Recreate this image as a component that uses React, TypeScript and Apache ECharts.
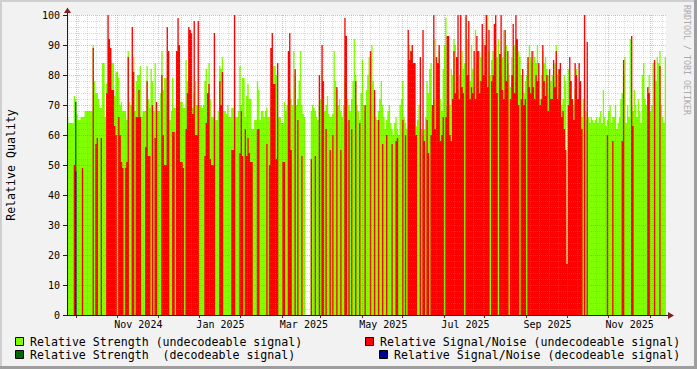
import React, { useEffect, useRef } from "react";
import * as echarts from "echarts";

const _ = null;

// one value per day, first day below
const START_DAY = "2024-08-25";

// Relative Strength (undecodeable signal), daily
const strength: (number | null)[] = [
  66, 64, 64, 64, 64, 73, 72, 67, 65, 65,
  66, 66, 66, 68, 68, 68, 68, 68, 68, 90,
  78, 74, 74, 72, 69, 69, 84, 84, 66, 77,
  78, 80, 85, 84, 84, 73, 81, 81, 79, 70,
  71, 68, 68, 68, 65, 88, 71, 70, 70, 86,
  68, 78, 80, 80, 83, 66, 68, 68, 68, 83,
  72, 69, 82, 78, 68, 84, 68, 68, 68, 74,
  88, 75, 79, 79, 70, 65, 65, 68, 79, 69,
  69, 75, 80, 80, 71, 71, 69, 69, 85, 78,
  80, 80, 80, 69, 74, 78, 70, 70, 70, 70,
  69, 70, 78, 82, 69, 84, 72, 66, 66, 66,
  65, 65, 68, 83, 82, 86, 68, 68, 67, 70,
  66, 66, 69, 69, 80, 66, 66, 68, 83, 70,
  79, 79, 66, 73, 77, 72, 72, 62, 62, 65,
  65, 78, 75, 65, 68, 68, 66, 68, 69, 66,
  66, 69, 80, 83, 83, 80, 66, 66, 66, 64,
  64, 71, 68, 70, 72, 75, 72, 70, 88, 80,
  70, 72, 78, 88, 70, 67, 66, _, _, _,
  _, 68, 70, 69, 68, 66, 65, 70, 72, 82,
  75, 68, 70, 73, 67, 66, 66, 67, 88, 78,
  75, 70, 72, 68, 66, 70, 80, 88, 72, 70,
  68, 72, 78, 92, 80, 70, 68, 65, 74, 85,
  70, 68, 75, 80, 86, 70, 90, 78, 70, 66,
  65, 68, 72, 78, 70, 66, 62, 65, 68, 70,
  64, 62, 60, 64, 66, 62, 60, 70, 72, 78,
  66, 64, 62, 84, 90, 88, 65, 62, 60, 63,
  65, 70, 61, 62, 60, 62, 66, 78, 74, 82,
  84, 68, 72, 92, 86, 80, 88, 72, 68, 82,
  90, 99, 70, 75, 70, 82, 80, 92, 90, 70,
  75, 80, 76, 88, 82, 84, 99, 92, 80, 78,
  90, 82, 76, 95, 84, 80, 88, 86, 90, 92,
  78, 94, 100, 88, 80, 85, 88, 82, 90, 86,
  92, 84, 80, 86, 95, 88, 90, 84, 80, 76,
  86, 80, 90, 78, 84, 88, 86, 80, 72, 74,
  78, 80, 84, 90, 86, 84, 88, 86, 84, 90,
  78, 72, 80, 88, 84, 86, 82, 80, 74, 78,
  80, 78, 84, 90, 80, 82, 76, 70, 72, 80,
  78, _, 82, 70, 66, 68, 70, 75, 82, 68,
  72, 70, 66, 72, 78, 68, 65, 66, 64, 66,
  65, 64, 65, 66, 64, 66, 68, 64, 75, 66,
  63, 65, 68, 70, 64, 66, 66, 70, 62, 64,
  66, 72, 74, 80, 86, 64, 70, 66, 92, 70,
  68, 75, 70, 66, 72, 68, 64, 80, 84, 72,
  70, 74, 80, 68, 70, 84, 80, 78, 86, 84,
  88, 70, 66, 64, 86,
];

// Relative Signal/Noise (undecodeable signal), daily
const snr: (number | null)[] = [
  _, _, _, _, _, 50, _, _, _, _,
  _, 49, _, _, _, _, _, _, _, 89,
  _, 57, 59, _, _, 59, _, _, _, 74,
  100, 92, 89, 75, 75, 63, 60, _, 66, 60,
  51, 49, _, 49, 51, 86, _, _, 96, 81,
  _, 66, 66, 75, 66, _, _, _, 56, 78,
  53, 53, _, 70, _, 59, 71, _, _, _,
  80, 60, 50, 50, 96, 88, _, _, 61, 61,
  _, 88, 99, 90, 51, 51, 49, _, 62, 74,
  96, 95, 94, 67, 98, 60, 60, 98, _, _,
  _, _, 53, 64, 74, 77, 52, 50, 50, 94,
  _, _, _, 78, 70, 81, _, _, _, _,
  _, _, 55, 55, 100, _, _, _, 54, 68,
  53, _, 62, 53, 59, 54, 51, 51, _, _,
  _, 62, 62, _, _, _, _, _, 57, _,
  50, 89, 94, 77, 77, 52, 84, _, _, _,
  51, 51, _, _, 88, 94, 55, _, _, 82,
  _, 65, _, _, 53, _, _, _, _, _,
  _, 52, _, _, 53, _, _, 80, _, 90,
  78, _, 62, _, _, 55, _, 60, _, _,
  76, _, _, 55, _, _, 99, 93, _, 65,
  _, 62, _, _, 78, _, _, 64, _, _,
  _, 70, _, _, _, 88, _, _, 75, _,
  _, 65, _, _, 57, _, _, 60, _, _,
  _, 57, _, _, 58, 59, _, _, _, 65,
  _, 60, _, 95, 85, 88, 90, 84, 84, 60,
  _, _, 86, _, 95, 58, _, 65, 54, _,
  60, 70, 100, 62, 86, 84, 90, 58, 60, 66,
  _, 66, 93, 93, 60, 58, 72, 88, 74, 86,
  100, 72, 100, 76, 74, _, 100, 80, 98, 72,
  76, 74, 88, 72, 93, 88, 74, 78, 97, 80,
  90, 100, 76, 95, _, 78, 80, 97, 100, 74,
  _, 87, 100, 75, 72, 95, 78, 88, _, 72,
  80, 97, 74, 100, 92, 70, _, 72, 82, 70,
  72, _, 86, 76, 74, 88, 76, 72, 80, 78,
  84, 70, 72, 90, 78, 73, 80, 68, 82, 72,
  72, 85, 76, 88, 72, 82, 84, 66, 68, 62,
  55, 17, 70, 86, 78, 72, 65, 84, 80, 72,
  84, 78, 62, _, 100, _, 91, _, _, _,
  _, _, _, _, _, _, _, _, _, _,
  _, 60, _, _, _, 58, _, _, _, _,
  _, _, 58, 85, _, _, _, _, _, 93,
  63, _, _, _, _, _, _, _, _, _,
  _, 76, 74, _, _, _, 85, _, _, _,
  83, _, _, _, _,
];

// decodeable signal: only one day carries values
const decodeableDays = ["2024-08-31"];
const strengthDecodeable = [71];
const snrDecodeable = [48];

const monthLabels = ["Nov 2024", "Jan 2025", "Mar 2025", "May 2025", "Jul 2025", "Sep 2025", "Nov 2025"];

const FONT = "DejaVu Sans Mono";
const GREEN = "#80FF00";
const RED = "#FF0000";
const DARK_GREEN = "#006A00";
const BLUE = "#000096";

const MONTHS = ["Jan", "Feb", "Mar", "Apr", "May", "Jun", "Jul", "Aug", "Sep", "Oct", "Nov", "Dec"];

function dayString(base: string, offset: number): string {
  const d = new Date(base + "T00:00:00Z");
  d.setUTCDate(d.getUTCDate() + offset);
  return d.toISOString().slice(0, 10);
}

export default function App() {
  const ref = useRef<HTMLDivElement>(null);

  useEffect(() => {
    if (!ref.current) return;
    const chart = echarts.init(ref.current, undefined, { renderer: "svg" });

    const n = strength.length;
    const dates: string[] = [];
    for (let i = 0; i <= n; i++) dates.push(dayString(START_DAY, i));

    const labelAt: Record<string, string> = {};
    monthLabels.forEach((lab) => {
      const [mon, yr] = lab.split(" ");
      const m = MONTHS.indexOf(mon);
      const d = new Date(Date.UTC(Number(yr), m - 1, 17));
      labelAt[d.toISOString().slice(0, 10)] = lab;
    });

    const isMonthStart = (v: string) => v.slice(8, 10) === "01";
    const isMonday = (v: string) => new Date(v + "T00:00:00Z").getUTCDay() === 1;

    const decStrength: (number | null)[] = new Array(n).fill(null);
    const decSnr: (number | null)[] = new Array(n).fill(null);
    decodeableDays.forEach((d, k) => {
      const idx = dates.indexOf(d);
      if (idx >= 0 && idx < n) {
        decStrength[idx] = strengthDecodeable[k];
        decSnr[idx] = snrDecodeable[k];
      }
    });

    const toPlot = (vals: (number | null)[]) => {
      const arr = vals.map((v) => (v == null ? 0 : v));
      arr.push(arr[arr.length - 1]);
      return arr;
    };

    const area = (name: string, vals: (number | null)[], color: string) => ({
      type: "line",
      name,
      step: "end",
      symbol: "none",
      showSymbol: false,
      silent: true,
      xAxisIndex: 0,
      yAxisIndex: 0,
      lineStyle: { width: 0, opacity: 0 },
      areaStyle: { color, opacity: 1 },
      data: toPlot(vals),
      z: 2,
    });

    const minorGrid = { color: "rgba(143,143,143,0.32)", width: 1, type: [1, 1] };
    const majorGrid = { color: "rgba(222,79,79,0.42)", width: 1, type: [1, 1] };

    const legendBox = (x: number, y: number, color: string) => ({
      type: "rect",
      shape: { x: x + 0.5, y: y + 0.5, width: 8, height: 8 },
      style: { fill: color, stroke: "#000", lineWidth: 1 },
      z: 10,
    });
    const legendText = (x: number, y: number, text: string) => ({
      type: "text",
      x,
      y,
      style: { text, fontFamily: FONT, fontSize: 11.6, fill: "#000", textAlign: "left", textVerticalAlign: "middle" },
      z: 10,
    });

    chart.setOption({
      animation: false,
      backgroundColor: "#F2F2F2",
      grid: { left: 67, top: 15, width: 599, height: 300, show: true, backgroundColor: "#FFFFFF", borderWidth: 0 },
      xAxis: [
        {
          type: "category",
          data: dates,
          boundaryGap: false,
          z: 4,
          axisLine: { show: true, lineStyle: { color: "#1F1F1F", width: 1 } },
          axisTick: { show: true, interval: (_i: number, v: string) => isMonthStart(v), length: 3, lineStyle: { color: "#801F1F" } },
          axisLabel: {
            interval: (_i: number, v: string) => labelAt[v] !== undefined,
            formatter: (v: string) => labelAt[v] || "",
            fontFamily: FONT,
            fontSize: 10,
            color: "#000",
            margin: 4,
          },
          splitLine: { show: true, interval: (_i: number, v: string) => isMonthStart(v), lineStyle: majorGrid },
        },
        {
          type: "category",
          data: dates,
          boundaryGap: false,
          position: "bottom",
          z: 3,
          axisLine: { show: false },
          axisTick: { show: false },
          axisLabel: { show: false },
          splitLine: { show: true, interval: (_i: number, v: string) => isMonday(v) && !isMonthStart(v), lineStyle: minorGrid },
        },
      ],
      yAxis: {
        type: "value",
        min: 0,
        max: 100,
        interval: 10,
        z: 4,
        axisLine: { show: true, lineStyle: { color: "#1F1F1F" } },
        axisTick: { show: true, length: 4, lineStyle: { color: "#1F1F1F" } },
        axisLabel: { fontFamily: FONT, fontSize: 10, color: "#000", margin: 7 },
        splitLine: { show: true, lineStyle: majorGrid },
        minorTick: { show: false, splitNumber: 5 },
        minorSplitLine: { show: true, lineStyle: minorGrid },
      },
      series: [
        area("Relative Strength (undecodeable signal)", strength, GREEN),
        area("Relative Strength (decodeable signal)", decStrength, DARK_GREEN),
        area("Relative Signal/Noise (undecodeable signal)", snr, RED),
        area("Relative Signal/Noise (decodeable signal)", decSnr, BLUE),
      ],
      graphic: {
        elements: [
          { type: "rect", shape: { x: 0, y: 0, width: 697, height: 2 }, style: { fill: "#CFCFCF" }, z: 10 },
          { type: "rect", shape: { x: 0, y: 0, width: 2, height: 369 }, style: { fill: "#CFCFCF" }, z: 10 },
          { type: "rect", shape: { x: 694, y: 0, width: 3, height: 369 }, style: { fill: "#9E9E9E" }, z: 10 },
          { type: "rect", shape: { x: 0, y: 366, width: 697, height: 3 }, style: { fill: "#9E9E9E" }, z: 10 },
          { type: "line", shape: { x1: 67.5, y1: 12, x2: 67.5, y2: 15 }, style: { stroke: "#1F1F1F", lineWidth: 1 }, z: 10 },
          { type: "line", shape: { x1: 63, y1: 315.5, x2: 668, y2: 315.5 }, style: { stroke: "#1F1F1F", lineWidth: 1 }, z: 10 },
          { type: "polygon", shape: { points: [[64, 13], [71, 13], [67.5, 7.5]] }, style: { fill: "#801F1F" }, z: 10 },
          { type: "polygon", shape: { points: [[668, 312], [668, 319], [674, 315.5]] }, style: { fill: "#801F1F" }, z: 10 },
          {
            type: "text",
            x: 11,
            y: 165,
            rotation: Math.PI / 2,
            style: { text: "Relative Quality", fontFamily: FONT, fontSize: 11.6, fill: "#000", textAlign: "center", textVerticalAlign: "middle" },
            z: 10,
          },
          {
            type: "text",
            x: 687,
            y: 60,
            rotation: -Math.PI / 2,
            style: { text: "RRDTOOL / TOBI OETIKER", fontFamily: FONT, fontSize: 8.3, fill: "#ABABAB", textAlign: "center", textVerticalAlign: "middle" },
            z: 10,
          },
          legendBox(15, 337, GREEN),
          legendText(30, 341.5, "Relative Strength (undecodeable signal)"),
          legendBox(15, 350, DARK_GREEN),
          legendText(30, 354.5, "Relative Strength \u00a0(decodeable signal)"),
          legendBox(365, 337, RED),
          legendText(380, 341.5, "Relative Signal/Noise (undecodeable signal)"),
          legendBox(379, 350, BLUE),
          legendText(394, 354.5, "Relative Signal/Noise (decodeable signal)"),
        ],
      },
    });

    return () => chart.dispose();
  }, []);

  return <div ref={ref} style={{ position: "fixed", left: 0, top: 0, width: 697, height: 369 }} />;
}
